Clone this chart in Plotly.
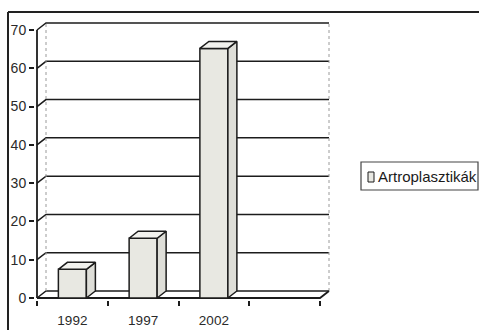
import plotly.graph_objects as go

# ---- data -------------------------------------------------------------
years = ["1992", "1997", "2002"]
values = [7.5, 15.6, 65.2]
series_name = "Artroplasztikák"
y_ticks = [0, 10, 20, 30, 40, 50, 60, 70]
n_slots = 4  # three filled categories plus an empty slot on the right

# ---- geometry (pixels) -----------------------------------------------
W, H = 479, 330
FRONT_L, FRONT_R = 37, 320      # front x-axis extent
FRONT_B, FRONT_TOP70 = 298, 30  # y of value 0 and value 70 at the front
DEPTH_X, DEPTH_Y = 9, 7         # 3-D depth offset of the back wall
PLOT_L, PLOT_R, PLOT_T, PLOT_B = 35, 331, 21, 300

px_per_cat = (FRONT_R - FRONT_L) / n_slots
px_per_unit = (FRONT_B - FRONT_TOP70) / 70.0

x_min = -0.5 - (FRONT_L - PLOT_L) / px_per_cat
x_max = -0.5 + (PLOT_R - FRONT_L) / px_per_cat
y_min = -(PLOT_B - FRONT_B) / px_per_unit
y_max = (FRONT_B - PLOT_T) / px_per_unit

dx = DEPTH_X / px_per_cat
dy = DEPTH_Y / px_per_unit
bar_w = 28 / px_per_cat

x_left = -0.5
x_right = n_slots - 0.5
top_val = y_ticks[-1]


def px_to_paper(px, py):
    return ((px - PLOT_L) / (PLOT_R - PLOT_L), (PLOT_B - py) / (PLOT_B - PLOT_T))


INK = "#1c1c1c"
FACE = "#e8e8e2"
SIDE = "#dedeD8"
TOP = "#f2f2ee"

shapes = []

# gridlines on the side wall and the back wall
for v in y_ticks:
    shapes.append(dict(
        type="path", xref="x", yref="y", layer="below",
        path=f"M{x_left},{v} L{x_left + dx},{v + dy} L{x_right + dx},{v + dy}",
        line=dict(color=INK, width=1.5),
    ))

# back wall vertical edges
for xe in (x_left + dx, x_right + dx):
    shapes.append(dict(
        type="line", xref="x", yref="y", layer="below",
        x0=xe, x1=xe, y0=dy, y1=top_val + dy,
        line=dict(color="#9a9a9a", width=1, dash="dot"),
    ))

# front value axis line
shapes.append(dict(
    type="line", xref="x", yref="y", layer="below",
    x0=x_left, x1=x_left, y0=0, y1=top_val,
    line=dict(color=INK, width=1.8),
))
# front edge of the floor and its right-hand depth edge
shapes.append(dict(
    type="path", xref="x", yref="y", layer="below",
    path=f"M{x_left},0 L{x_right},0 L{x_right + dx},{dy}",
    line=dict(color=INK, width=1.8),
))

# outer chart frame (top and left edges)
fx0, fy0 = px_to_paper(8, 12)
fx1, _ = px_to_paper(W, 12)
_, fy1 = px_to_paper(8, H)
shapes.append(dict(type="line", xref="paper", yref="paper", x0=fx0, x1=fx1, y0=fy0, y1=fy0,
                   line=dict(color="#222", width=2)))
shapes.append(dict(type="line", xref="paper", yref="paper", x0=fx0, x1=fx0, y0=fy0, y1=fy1,
                   line=dict(color="#222", width=2)))

# legend box and key
lx0, ly0 = px_to_paper(361, 162)
lx1, ly1 = px_to_paper(478, 190)
shapes.append(dict(type="rect", xref="paper", yref="paper", x0=lx0, x1=lx1, y0=ly0, y1=ly1,
                   line=dict(color="#444", width=1.2), fillcolor="white"))
kx0, ky0 = px_to_paper(368, 172)
kx1, ky1 = px_to_paper(374, 182)
shapes.append(dict(type="rect", xref="paper", yref="paper", x0=kx0, x1=kx1, y0=ky0, y1=ky1,
                   line=dict(color=INK, width=1), fillcolor=FACE))
tx, ty = px_to_paper(376, 176.5)

fig = go.Figure()

# front faces of the columns
fig.add_trace(go.Bar(
    x=list(range(len(years))), y=values, width=bar_w, name=series_name,
    marker=dict(color=FACE, line=dict(color=INK, width=1.5)),
    showlegend=False, hoverinfo="skip",
))

# side and top faces of the columns
for i, v in enumerate(values):
    xl, xr = i - bar_w / 2, i + bar_w / 2
    fig.add_trace(go.Scatter(
        x=[xr, xr + dx, xr + dx, xr, xr], y=[0, dy, v + dy, v, 0],
        mode="lines", fill="toself", fillcolor=SIDE,
        line=dict(color=INK, width=1.5), showlegend=False, hoverinfo="skip",
    ))
    fig.add_trace(go.Scatter(
        x=[xl, xl + dx, xr + dx, xr, xl], y=[v, v + dy, v + dy, v, v],
        mode="lines", fill="toself", fillcolor=TOP,
        line=dict(color=INK, width=1.5), showlegend=False, hoverinfo="skip",
    ))

# carrier for the category labels axis
fig.add_trace(go.Scatter(x=[x_min], y=[0], xaxis="x2", mode="markers",
                         marker=dict(opacity=0), showlegend=False, hoverinfo="skip"))

font = dict(family="Liberation Sans, Arial, sans-serif", size=13, color="#2a2a2a")

fig.update_layout(
    width=W, height=H, autosize=False,
    margin=dict(l=PLOT_L, r=W - PLOT_R, t=PLOT_T, b=H - PLOT_B, pad=0, autoexpand=False),
    paper_bgcolor="white", plot_bgcolor="rgba(0,0,0,0)",
    font=font, showlegend=False, shapes=shapes,
    xaxis=dict(
        range=[x_min, x_max], tickmode="array",
        tickvals=[k - 0.5 for k in range(n_slots + 1)],
        ticks="outside", ticklen=5, tickwidth=1.5, tickcolor=INK,
        showticklabels=False, showgrid=False, zeroline=False, showline=False,
        automargin=False, fixedrange=True,
    ),
    xaxis2=dict(
        range=[x_min, x_max], overlaying="x", anchor="y", side="bottom",
        tickmode="array", tickvals=list(range(len(years))), ticktext=years,
        ticks="", ticklabelstandoff=10, showgrid=False, zeroline=False, showline=False,
        tickfont=dict(size=13.5, color="#2a2a2a"), automargin=False, fixedrange=True,
    ),
    yaxis=dict(
        range=[y_min, y_max], tickmode="array", tickvals=y_ticks,
        ticks="outside", ticklen=5, tickwidth=1.5, tickcolor=INK,
        showgrid=False, zeroline=False, showline=False,
        tickfont=dict(size=14, color="#2a2a2a"), automargin=False, fixedrange=True,
    ),
    annotations=[dict(
        text=series_name, xref="paper", yref="paper", x=tx, y=ty,
        xanchor="left", yanchor="middle", showarrow=False,
        font=dict(family="Liberation Sans, Arial, sans-serif", size=15, color="#1a1a1a"),
    )],
)

fig.write_html("out.html")
